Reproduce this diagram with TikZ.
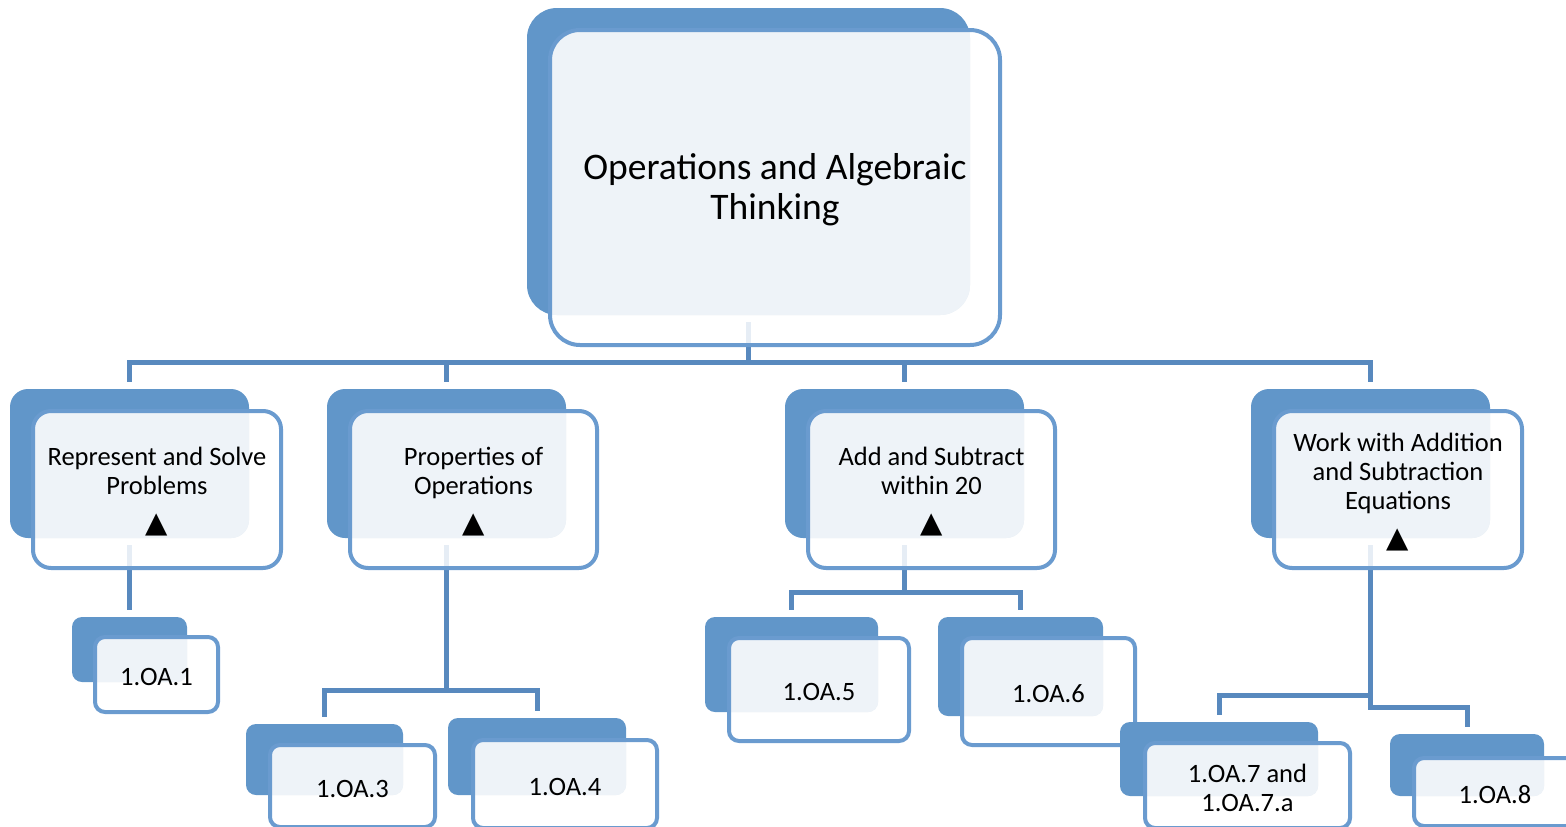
\documentclass[tikz,border=0pt]{standalone}
\usepackage{fontspec}
\setmainfont{Carlito}
\newfontfamily\symfont{DejaVu Sans}
\usetikzlibrary{positioning, calc, fit, backgrounds}

\definecolor{cardblue}{RGB}{97,150,201}
\definecolor{cardline}{RGB}{106,155,207}
\definecolor{connblue}{RGB}{88,137,190}
\definecolor{cardlight}{RGB}{238,243,248}

\tikzset{
  backcard/.style={fill=cardblue, inner sep=0pt, outer sep=0pt},
  frontcard/.style={fill=white, fill opacity=0.85, inner sep=0pt, outer sep=0pt},
  conn/.style={draw=connblue, line width=5pt},
  bigtext/.style={align=center, font=\fontsize{37.5}{40}\selectfont},
  midtext/.style={align=center, font=\fontsize{26.5}{29}\selectfont}
}

\newcommand{\tri}{{\symfont\fontsize{29}{29}\selectfont ▲}}

%// #1 name, #2 radius, #3 back corners, #4 front corners, #5 text style, #6 text
\newcommand{\card}[6]{
  \node[backcard, rounded corners=#2, fit={#3}] (#1-b) {};
  \node[frontcard, rounded corners=#2, fit={#4}] (#1) {};
  \begin{scope}
    \clip[rounded corners=#2] (#1.north west) rectangle (#1.south east);
    \fill[cardlight, rounded corners=#2] (#1-b.north west) rectangle (#1-b.south east);
  \end{scope}
  \draw[cardline, line width=4pt, rounded corners=#2] (#1.north west) rectangle (#1.south east);
  \node[#5] (#1-t) at ([yshift=-2.5pt]#1.center) {#6};
}

\begin{document}
\begin{tikzpicture}[x=1pt, y=-1pt]
\useasboundingbox (0,0) rectangle (1566,827);

%// top
\card{top}{30pt}{(527,8) (970,315)}{(550,30) (1000,345)}{bigtext}{Operations and Algebraic\\Thinking}

%// second row
\card{rep}{18pt}{(10,389) (249,538)}{(33,411) (281,568)}{midtext}{Represent and Solve\\Problems\\[9pt]\tri}
\card{prop}{18pt}{(327,389) (566,538)}{(350,411) (597,568)}{midtext}{Properties of\\Operations\\[9pt]\tri}
\card{add}{18pt}{(785,389) (1024,538)}{(808,411) (1055,568)}{midtext}{Add and Subtract\\within 20\\[9pt]\tri}
\card{work}{18pt}{(1251,389) (1490,538)}{(1274,411) (1522,568)}{midtext}{Work with Addition\\and Subtraction\\Equations\\[9pt]\tri}

%// standards
\card{oa1}{10pt}{(72,617) (187,682)}{(95,637) (218,712)}{midtext}{1.OA.1}
\card{oa3}{10pt}{(246,724) (403,795)}{(270,745) (435,827)}{midtext}{1.OA.3}
\card{oa4}{10pt}{(448,718) (626,795)}{(473,740) (657,828)}{midtext}{1.OA.4}
\card{oa5}{10pt}{(705,617) (878,712)}{(729,638) (909,741)}{midtext}{1.OA.5}
\card{oa6}{10pt}{(938,617) (1103,716)}{(962,638) (1135,745)}{midtext}{1.OA.6}
\card{oa7}{10pt}{(1120,722) (1318,796)}{(1145,743) (1350,828)}{midtext}{1.OA.7 and\\1.OA.7.a}
\card{oa8}{10pt}{(1390,734) (1544,796)}{(1414,758) (1576,826)}{midtext}{1.OA.8}

%// connectors behind the cards
\begin{scope}[on background layer]
\coordinate (bus1) at (748.5,362);
\draw[conn] ([yshift=-7pt]top-b.south) -- (bus1);
\foreach \n in {rep,prop,add,work}
  \draw[conn] (bus1) -| ([yshift=7pt]\n-b.north);

\draw[conn] ([yshift=-7pt]rep-b.south) -- ([yshift=7pt]oa1-b.north);

\coordinate (bus2) at (446.5,690);
\draw[conn] ([yshift=-7pt]prop-b.south) -- (bus2);
\foreach \n in {oa3,oa4}
  \draw[conn] (bus2) -| ([yshift=7pt]\n-b.north);

\coordinate (bus3) at (904.5,592);
\draw[conn] ([yshift=-7pt]add-b.south) -- (bus3);
\foreach \n in {oa5,oa6}
  \draw[conn] (bus3) -| ([yshift=7pt]\n-b.north);

\coordinate (bus4a) at (1370.5,695);
\coordinate (bus4b) at (1370.5,707);
\draw[conn] ([yshift=-7pt]work-b.south) -- (bus4b) -| ([yshift=7pt]oa8-b.north);
\draw[conn] (bus4a) -| ([yshift=7pt]oa7-b.north);
\end{scope}
\end{tikzpicture}
\end{document}
